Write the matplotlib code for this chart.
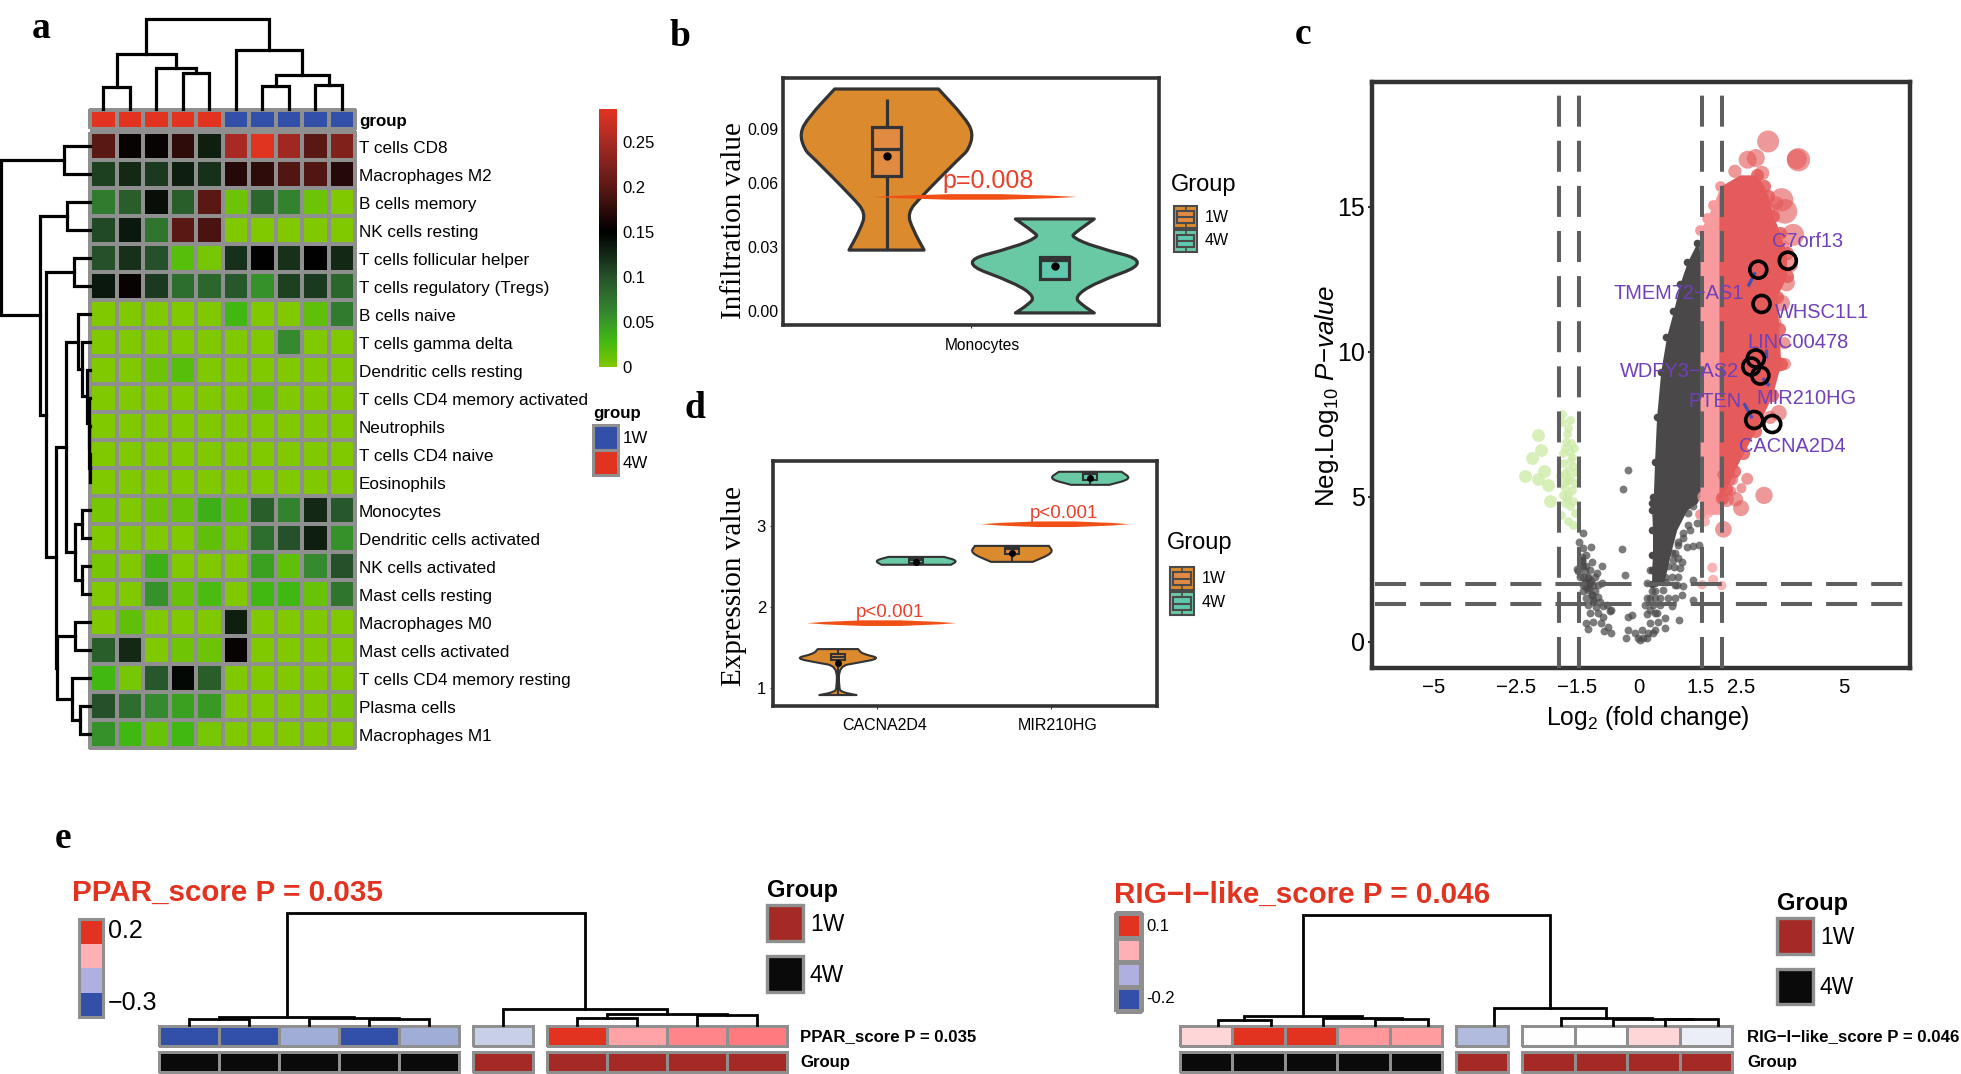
import numpy as np
import matplotlib
matplotlib.use('Agg')
import matplotlib.pyplot as plt
from matplotlib.cm import ScalarMappable
from matplotlib.colors import LinearSegmentedColormap, ListedColormap, Normalize, TwoSlopeNorm
from matplotlib.patches import PathPatch, Rectangle
from matplotlib.path import Path

plt.rcParams['font.family'] = ['Liberation Sans', 'DejaVu Sans']
plt.rcParams['mathtext.fontset'] = 'custom'
plt.rcParams['mathtext.rm'] = 'Liberation Sans'
plt.rcParams['mathtext.it'] = 'Liberation Sans:italic'

W, H = 1961, 1074
GREY = '#8F8F8F'
FRAME = '#333333'
ORANGE, ORANGE_BOX = '#DB8B2D', '#E08A42'
TEAL, TEAL_BOX = '#69C9A5', '#5FC8AE'
SPINDLE = '#F05015'
PTEXT = '#E8402A'
PURPLE = '#7040B8'
RED, BLUE = '#E23320', '#3350A8'
HEAT_MAX = .2867

# panel a
cell_types = ['T cells CD8', 'Macrophages M2', 'B cells memory', 'NK cells resting',
              'T cells follicular helper', 'T cells regulatory (Tregs)', 'B cells naive',
              'T cells gamma delta', 'Dendritic cells resting', 'T cells CD4 memory activated',
              'Neutrophils', 'T cells CD4 naive', 'Eosinophils', 'Monocytes',
              'Dendritic cells activated', 'NK cells activated', 'Mast cells resting',
              'Macrophages M0', 'Mast cells activated', 'T cells CD4 memory resting',
              'Plasma cells', 'Macrophages M1']
fractions = [
    [.2, .155, .155, .175, .13, .25, .285, .245, .2, .225],
    [.11, .125, .115, .13, .12, .17, .175, .195, .195, .17],
    [.07, .09, .14, .09, .2, .01, .085, .065, .01, 0],
    [.105, .135, .075, .2, .19, 0, 0, 0, 0, 0],
    [.1, .12, .1, .02, .005, .12, .15, .12, .15, .125],
    [.135, .155, .115, .08, .085, .095, .055, .11, .115, .085],
    [0, 0, 0, 0, 0, .03, 0, 0, .015, .07],
    [0, 0, 0, 0, 0, 0, 0, .06, 0, 0],
    [0, 0, .01, .02, 0, 0, 0, 0, 0, 0],
    [0, 0, 0, 0, 0, 0, .01, 0, 0, 0],
    [0, 0, 0, 0, 0, 0, 0, 0, 0, 0],
    [0, 0, 0, 0, 0, 0, 0, 0, 0, 0],
    [0, 0, 0, 0, 0, 0, 0, 0, 0, 0],
    [.005, 0, .01, .012, .035, .015, .09, .065, .125, .095],
    [0, 0, 0, 0, .015, .005, .08, .1, .13, .055],
    [.005, 0, .035, 0, 0, 0, .045, .015, .06, .1],
    [0, 0, .055, .012, .025, 0, .03, .03, .012, .075],
    [0, .015, 0, 0, 0, .13, 0, 0, 0, 0],
    [.09, .125, 0, .008, .01, .155, 0, 0, 0, 0],
    [.03, .005, .095, .145, .09, 0, 0, 0, 0, 0],
    [.1, .08, .06, .045, .05, 0, 0, 0, 0, .005],
    [.055, .03, .012, .03, .005, 0, 0, 0, 0, 0],
]
sample_group = [1, 1, 1, 1, 1, 0, 0, 0, 0, 0]
col_tree = (90, (55, (22, 0, 1), (41, 2, (36, 3, 4))),
            (59, 5, (34, (23, 6, 7), (24, 8, 9))))
row_chain = (12, 6, (8, 7, (3.5, 8, (1.5, 9, (1, 10, (.5, 11, 12))))))
row_mid = (24, row_chain, (15, (8, 13, 14), (8, 15, 16)))
row_low = (33, (15, 17, 18), (18, 19, (10, 20, 21)))
row_tree = (89, (26, 0, 1), (50, (23, 2, 3), (44, (16, 4, 5), (34, row_mid, row_low))))

# panel b
mono_1w_val = [.1063, .093, .0855, .0775, .0742, .0553, .0477, .0397, .0302]
mono_1w_half = [.166, .249, .278, .262, .237, .11, .066, .085, .12]
mono_4w_val = [.0449, .0382, .0364, .0317, .0246, .0146, .008, .0042, .0005]
mono_4w_half = [.126, .063, .054, .126, .31, .126, .062, .088, .126]

# panel d
cacna_1w_val = [1.48, 1.42, 1.367, 1.31, 1.27, 1.0, .95, .913]
cacna_1w_half = [.116, .14, .25, .11, .006, .006, .02, .107]
cacna_4w_val = [2.617, 2.57, 2.52]
cacna_4w_half = [.16, .24, .2]
mir_1w_val = [2.753, 2.667, 2.556]
mir_1w_half = [.213, .24, .12]
mir_4w_val = [3.667, 3.58, 3.506]
mir_4w_half = [.18, .24, .11]

# panel c, dense clouds are kept as outlines
grey_y = [13.74, 13.1, 12.35, 11.4, 10.5, 9.3, 7.75, 6.2, 5.0, 4.78, 4.55, 3.86, 3.0, 2.48, 2.0]
grey_left = [1.41, 1.18, 1.0, .84, .67, .53, .43, .38, .35, .31, .31, .33, .33, .31, .31]
grey_right = [1.46, 1.5, 1.5, 1.5, 1.5, 1.5, 1.5, 1.5, 1.5, 1.41, 1.17, .92, .76, .68, .59]
pink_y = [15.7, 15.07, 14.6, 14.2, 4.4]
pink_left = [1.98, 1.81, 1.65, 1.49, 1.49]
pink_right = [2.0, 2.0, 2.0, 2.0, 2.0]
red_y = [16.1, 15.7, 15.36, 14.67, 14.09, 13.4, 12.6, 11.9, 10.8, 9.58, 8.5, 7.28, 6.5, 5.9, 5.28, 4.97]
red_left = [2.46, 1.98, 1.95, 1.95, 1.95, 1.95, 1.95, 1.95, 1.95, 1.95, 1.95, 1.95, 1.95, 1.95, 1.95, 1.95]
red_right = [2.87, 3.05, 3.15, 3.28, 3.44, 3.6, 3.6, 3.36, 3.41, 3.46, 3.25, 2.84, 2.54, 2.33, 2.13, 2.02]

grey_x_pts = [-1.37, -1.46, -1.36, -1.18, -1.40, -1.28, -1.15, -1.40, -1.52, -1.32, -.91, -1.20, -1.44, -1.03,
              -.91, -1.28, -1.11, -1.36, -1.07, -.95, -1.24, -.79, -1.20, -.99, -.67, -.87, -1.11, -1.29,
              -.93, -.75, -1.25, -.85, -.67, -1.38, -1.30, -1.25, -1.18, -1.32, -1.15, -1.05, -1.12, -1.3,
              -1.22, -.32, -.10, .02, .19, .35, .07, .27, .47, .63, .63, .98, -.26, -.26, -.17, .19, .39,
              .15, .27, .51, .80, .88, 1.04, .31, .59, 1.08, .92, .67, .96, 1.33, .27, .86, 1.04, .80, .96,
              1.16, 1.33, 1.47, .84, 1.33, .19, -.42, -.33, -.38, -.26,
              -1.40, -1.36, -1.48, -1.36, -1.24, -1.07, -1.20, -1.36, -.99, -1.24, -1.15, -.99, -1.28, -1.11,
              -.87, -.71, .39, .51, .63, .39, .39, .19, .51, .35, .27, .72, .43, .23, .10, -.02, .39, .88, .80,
              .72, 1.0, .96, .88, 1.08, 1.24, 1.41, 1.20, 1.33, 1.08, .96, 1.20]
grey_y_pts = [3.75, 3.46, 3.23, 3.26, 2.94, 3.00, 2.77, 2.66, 2.51, 2.43, 2.62, 2.48, 2.25, 2.37,
              2.02, 2.02, 1.97, 1.74, 1.74, 1.39, 1.28, 1.28, .99, .99, 1.10, .87, .70, .64,
              .64, .53, .46, .38, .32, 2.8, 2.6, 2.2, 2.1, 2.05, 1.6, 1.2, 1.45, 1.9,
              1.85, .13, .30, .05, .13, .30, .41, .64, .70, .82, .49, .74, .41, .87, .92, .97, .99,
              1.28, 1.51, 1.51, 1.22, 1.51, 1.62, 1.74, 1.79, 1.91, 1.97, 2.08, 2.25, 2.14, 2.48, 2.57, 2.77, 3.06, 3.34,
              3.26, 3.31, 3.34, 2.83, 1.45, 2.02, 3.2, 2.3, 5.26, 5.93,
              2.83, 2.60, 2.43, 2.25, 2.25, 2.25, 2.02, 1.97, 1.97, 1.79, 1.62, 1.56, 1.51, 1.39,
              1.22, 1.05, 2.02, 2.14, 2.25, 1.74, 1.51, 1.51, 1.28, 1.28, 1.10, 1.51, .99, .30, .13, .13, .41, 1.97, 2.25,
              2.60, 2.54, 2.88, 3.06, 3.75, 3.86, 4.09, 4.44, 4.67, 3.57, 3.46, 4.03]

green_big_x = [-2.47, -2.38, -2.61, -2.31, -2.77, -2.45, -2.23, -2.18]
green_big_y = [7.12, 6.61, 6.33, 5.90, 5.71, 5.62, 5.40, 4.85]
green_x = [-1.87, -1.67, -1.87, -1.72, -1.75, -1.78, -1.65, -1.81, -1.59, -1.86, -1.68, -1.64, -1.85, -1.68, -1.60,
           -1.72, -1.54, -1.80, -1.93, -1.68, -1.76, -1.56, -1.91, -1.80, -1.64, -1.86, -1.72, -1.60, -1.80, -1.68,
           -1.56, -1.89, -1.72, -1.60, -1.76, -1.72]
green_y = [7.85, 7.66, 7.59, 7.37, 7.16, 6.89, 6.85, 6.68, 6.70, 6.51, 6.56, 6.39, 6.16, 6.22, 6.05,
           5.93, 5.85, 5.82, 5.72, 5.68, 5.53, 5.47, 5.45, 5.30, 5.24, 5.05, 5.07, 4.84, 4.78, 4.67,
           4.44, 4.36, 4.15, 4.03, 4.95, 5.59]

red_big_x = [3.15, 3.89, 3.85, 2.85, 2.65, 3.0, 2.34, 3.48, 3.56, 3.36, 3.11, 3.76, 3.6, 3.48, 3.36, 3.56, 3.41, 3.2,
             3.05, 2.64, 2.23, 2.26, 2.06, 2.36, 2.49, 2.14, 2.03, 2.25, 2.5, 3.7, 3.5, 3.3, 3.2, 3.55]
red_big_y = [17.25, 16.62, 16.64, 16.68, 16.62, 16.16, 16.22, 15.24, 14.84, 15.13, 14.9, 14.03, 12.37, 11.68, 9.58, 9.58,
             7.89, 7.74, 5.05, 5.62, 5.58, 5.61, 3.88, 4.92, 4.61, 4.9, 5.76, 5.2, 5.3, 13.0, 13.6, 11.0, 10.5, 10.3]
red_big_r = [33, 35, 30, 27, 27, 22, 20, 35, 37, 20, 25, 33, 25, 25, 25, 18, 24, 20, 26, 18, 16, 20, 25, 22, 24, 22, 15, 15, 15,
             22, 22, 22, 20, 18]
pink_pts_x = [1.79, 1.81, 1.54, 2.02, 1.57, 1.69, 1.61, 1.77, 1.93, 1.97]
pink_pts_y = [2.56, 2.14, 1.97, 1.94, 5.0, 4.44, 4.15, 5.36, 4.9, 5.13]
pink_pts_r = [15, 15, 14, 14, 18, 15, 15, 20, 18, 15]

ring_x = [3.63, 2.91, 2.99, 2.85, 2.74, 2.96, 2.81, 3.25]
ring_y = [13.14, 12.83, 11.65, 9.77, 9.49, 9.18, 7.65, 7.51]
gene_names = ['C7orf13', 'TMEM72\u2212AS1', 'WHSC1L1', 'LINC00478', 'WDFY3\u2212AS2', 'MIR210HG', 'PTEN', 'CACNA2D4']
gene_x = [4.10, .98, 4.47, 3.87, .98, 4.08, 1.85, 3.75]
gene_y = [13.81, 12.01, 11.35, 10.32, 9.32, 8.40, 8.27, 6.74]
link_x = [(2.66, 2.84), (3.1, 3.1), (3.02, 3.18), (2.56, 2.76)]
link_y = [(12.25, 12.74), (9.77, 10.08), (9.09, 8.82), (8.23, 7.71)]
volcano_xticks = [-5, -3, -1.5, 0, 1.5, 2.5, 5]
volcano_xlabels = ['\u22125', '\u22122.5', '\u22121.5', '0', '1.5', '2.5', '5']

# panel e
ppar_scores = [-.3, -.3, -.14, -.3, -.14, -.08, .2, .09, .12, .13]
rig_scores = [.02, .1, .1, .05, .048, -.077, 0, 0, .02, -.02]
score_group = [1, 1, 1, 1, 1, 0, 0, 0, 0, 0]
ppar_tree = (112, (8, (6, 0, 1), (7.5, 2, (6, 3, 4))), (16, 5, (11, (7, 6, 7), (10, 8, 9))))
rig_tree = (110, (8.7, (5.5, 0, 1), (7, 2, (6, 3, 4))), (16.7, 5, (6.7, 6, (6.2, 7, (6, 8, 9)))))
key_colors = [BLUE, '#B0B0E0', '#FFB0B5', RED]

fig = plt.figure(figsize=(W / 100, H / 100), dpi=100)


def px_axes(x0, y0, x1, y1):
    return fig.add_axes([x0 / W, 1 - y1 / H, (x1 - x0) / W, (y1 - y0) / H])


def draw_tree(ax, node, leaf_pos, sideways=False, lw=2.3):
    if isinstance(node, int):
        return leaf_pos[node], 0
    h, a, b = node
    pa, ha = draw_tree(ax, a, leaf_pos, sideways, lw)
    pb, hb = draw_tree(ax, b, leaf_pos, sideways, lw)
    pos, hs = [pa, pa, pb, pb], [ha, h, h, hb]
    if sideways:
        ax.plot(hs, pos, color='k', lw=lw, solid_joinstyle='miter', clip_on=False)
    else:
        ax.plot(pos, hs, color='k', lw=lw, solid_joinstyle='miter', clip_on=False)
    return (pa + pb) / 2, h


def side_path(pts):
    mid = lambda p, q: ((p[0] + q[0]) / 2, (p[1] + q[1]) / 2)
    verts, codes = [pts[0], mid(pts[0], pts[1])], [Path.LINETO, Path.LINETO]
    for i in range(1, len(pts) - 1):
        verts += [pts[i], mid(pts[i], pts[i + 1])]
        codes += [Path.CURVE3, Path.CURVE3]
    verts.append(pts[-1])
    codes.append(Path.LINETO)
    return verts, codes


def draw_violin(ax, center, vals, half, color, lw):
    right = [(center + w, v) for v, w in zip(vals, half)]
    left = [(center - w, v) for v, w in zip(vals, half)][::-1]
    v1, c1 = side_path(right)
    v2, c2 = side_path(left)
    verts = v1 + v2 + [right[0]]
    codes = c1 + c2 + [Path.CLOSEPOLY]
    codes[0] = Path.MOVETO
    ax.add_patch(PathPatch(Path(verts, codes), fc=color, ec=FRAME, lw=lw, joinstyle='round'))


def draw_box(ax, center, half, low, q1, med, q3, high, mean, color, lw, dot):
    ax.plot([center, center], [low, high], color=FRAME, lw=lw, solid_capstyle='butt')
    ax.add_patch(Rectangle((center - half, q1), 2 * half, q3 - q1, fc=color, ec=FRAME, lw=lw, zorder=3))
    ax.plot([center - half, center + half], [med, med], color=FRAME, lw=lw, zorder=4, solid_capstyle='butt')
    ax.plot([center], [mean], 'o', color='k', ms=dot, zorder=5)


def draw_lens(ax, x0, x1, y, thick):
    xm = (x0 + x1) / 2
    verts = [(x0, y), (xm, y + thick), (x1, y), (xm, y - thick), (x0, y)]
    codes = [Path.MOVETO, Path.CURVE3, Path.CURVE3, Path.CURVE3, Path.CURVE3]
    ax.add_patch(PathPatch(Path(verts, codes), fc=SPINDLE, ec='none', zorder=6, clip_on=False))


def frame(ax, lw):
    for s in ax.spines.values():
        s.set_linewidth(lw)
        s.set_color(FRAME)


def marker_area(r):
    # r is a radius read in a 3x crop
    return .23 * np.array(r) ** 2


# overlay in picture pixels, only for labels and legends
ov = fig.add_axes([0, 0, 1, 1], zorder=20)
ov.set_xlim(0, W)
ov.set_ylim(H, 0)
ov.axis('off')
ov.patch.set_alpha(0)


def label(x, y, s, size, ha='left', **kw):
    ov.text(x, y + 2.5, s, fontsize=size, ha=ha, va='center', **kw)


def violin_key(x0, y0, x1, y1, color, box):
    xm = (x0 + x1) / 2
    ov.add_patch(Rectangle((x0, y0), x1 - x0, y1 - y0, fc=color, ec='#4A4A4A', lw=1.5))
    ov.plot([xm, xm], [y0, y1], color='#4A4A4A', lw=1.2)
    ov.add_patch(Rectangle((x0 + 3, y0 + 5), x1 - x0 - 6, y1 - y0 - 10, fc=box, ec='#4A4A4A', lw=1.5, zorder=3))
    ov.plot([x0 + 3, x1 - 3], [(y0 + y1) / 2] * 2, color='#4A4A4A', lw=1.5, zorder=4)


for s, x, y in [('a', 32, 29), ('b', 670, 37), ('c', 1295, 35), ('d', 684, 408), ('e', 55, 839)]:
    ov.text(x, y, s, fontsize=27, family='Liberation Serif', weight='bold', ha='left', va='center')

# a: heat map
heat_cmap = LinearSegmentedColormap.from_list('heat', [
    (0, '#80C800'), (.03 / HEAT_MAX, '#3FB812'), (.06 / HEAT_MAX, '#35892F'), (.1 / HEAT_MAX, '#25502A'),
    (.15 / HEAT_MAX, '#000000'), (.2 / HEAT_MAX, '#5A1814'), (.25 / HEAT_MAX, '#A82A24'), (1, RED)])
ax = px_axes(90, 132, 355, 748)
ax.pcolormesh(np.array(fractions), cmap=heat_cmap, vmin=0, vmax=HEAT_MAX, edgecolors=GREY, linewidth=1.7, clip_on=False)
ax.set_ylim(22, 0)
ax.axis('off')
for i, name in enumerate(cell_types):
    label(359, 132 + 28 * (i + .5), name, 12.3)

ax = px_axes(90, 110, 355, 129)
ax.pcolormesh(np.array([sample_group]), cmap=ListedColormap([BLUE, RED]), vmin=0, vmax=1,
              edgecolors=GREY, linewidth=1.7, clip_on=False)
ax.axis('off')
label(359, 119, 'group', 12.2, weight='bold')

ax = px_axes(90, 19, 355, 109)
ax.set_xlim(0, 10)
ax.set_ylim(0, 90)
draw_tree(ax, col_tree, [i + .5 for i in range(10)])
ax.axis('off')

ax = px_axes(0, 132, 90, 748)
ax.set_xlim(90, 0)
ax.set_ylim(22, 0)
draw_tree(ax, row_tree, [i + .5 for i in range(22)], sideways=True)
ax.axis('off')

cax = px_axes(599, 109, 617, 367)
cbar = fig.colorbar(ScalarMappable(Normalize(0, HEAT_MAX), heat_cmap), cax=cax, ticks=[0, .05, .1, .15, .2, .25])
cbar.ax.set_yticklabels(['0', '0.05', '0.1', '0.15', '0.2', '0.25'], fontsize=12)
cbar.ax.tick_params(length=0, pad=4)
cbar.outline.set_visible(False)

label(593, 411, 'group', 12.2, weight='bold')
ov.add_patch(Rectangle((593, 425), 25, 25, fc=BLUE, ec=GREY, lw=2.2))
ov.add_patch(Rectangle((593, 450), 25, 25, fc=RED, ec=GREY, lw=2.2))
label(623, 436, '1W', 12.2)
label(623, 461, '4W', 12.2)

# b: Monocytes violins
ax = px_axes(783, 78, 1159, 325)
ax.set_xlim(.399, 1.601)
ax.set_ylim(-.0052, .1115)
draw_violin(ax, .73, mono_1w_val, mono_1w_half, ORANGE, 2.3)
draw_violin(ax, 1.268, mono_4w_val, mono_4w_half, TEAL, 2.3)
draw_box(ax, .73, .046, .0302, .0652, .078, .0883, .1016, .0746, ORANGE_BOX, 2.3, 5)
draw_box(ax, 1.268, .046, .0165, .0165, .0255, .0269, .0269, .0227, TEAL_BOX, 2.3, 5)
draw_lens(ax, .687, 1.339, .0553, .0028)
ax.text(1.054, .063, 'p=0.008', color=PTEXT, fontsize=18, ha='center', va='center', zorder=7)
ax.set_xticks([1])
ax.set_xticklabels([''])
ax.set_yticks([.0015, .0315, .0619, .0875])
ax.set_yticklabels(['0.00', '0.03', '0.06', '0.09'], fontsize=11.5)
ax.tick_params(axis='y', length=0, pad=3)
ax.tick_params(axis='x', length=2, color=FRAME)
frame(ax, 2.6)
label(982, 343, 'Monocytes', 11.2, ha='center')
ov.text(734, 221, 'Infiltration value', fontsize=21, family='Liberation Serif', rotation=90, ha='center', va='center')
label(1171, 182, 'Group', 17)
violin_key(1174, 206, 1197, 228, ORANGE, ORANGE_BOX)
violin_key(1174, 230, 1197, 252, TEAL, TEAL_BOX)
label(1205, 215, '1W', 11.5)
label(1205, 238, '4W', 11.5)

# d: expression violins
ax = px_axes(773, 461, 1157, 706)
ax.set_xlim(.402, 2.609)
ax.set_ylim(.778, 3.80)
lw_d = 1.5
draw_violin(ax, .775, cacna_1w_val, cacna_1w_half, ORANGE, lw_d)
draw_violin(ax, 1.225, cacna_4w_val, cacna_4w_half, TEAL, lw_d)
draw_violin(ax, 1.775, mir_1w_val, mir_1w_half, ORANGE, lw_d)
draw_violin(ax, 2.225, mir_4w_val, mir_4w_half, TEAL, lw_d)
draw_box(ax, .775, .04, .913, 1.345, 1.38, 1.415, 1.48, 1.31, ORANGE_BOX, lw_d, 4)
draw_box(ax, 1.225, .04, 2.54, 2.54, 2.58, 2.6, 2.6, 2.56, TEAL_BOX, lw_d, 4)
draw_box(ax, 1.775, .04, 2.556, 2.65, 2.72, 2.74, 2.753, 2.67, ORANGE_BOX, lw_d, 4)
draw_box(ax, 2.225, .04, 3.506, 3.57, 3.64, 3.66, 3.667, 3.59, TEAL_BOX, lw_d, 4)
draw_lens(ax, .598, 1.454, 1.80, .074)
draw_lens(ax, 1.598, 2.454, 3.02, .074)
ax.text(1.075, 1.93, 'p<0.001', color=PTEXT, fontsize=13.5, ha='center', va='center', zorder=7)
ax.text(2.075, 3.155, 'p<0.001', color=PTEXT, fontsize=13.5, ha='center', va='center', zorder=7)
ax.set_xticks([1, 2])
ax.set_xticklabels(['', ''])
ax.set_yticks([1, 2, 3])
ax.set_yticklabels(['1', '2', '3'], fontsize=12)
ax.tick_params(axis='y', length=2, pad=3, color=FRAME)
ax.tick_params(axis='x', length=2, color=FRAME)
frame(ax, 2.6)
label(885, 723, 'CACNA2D4', 11.5, ha='center')
label(1058, 723, 'MIR210HG', 11.5, ha='center')
ov.text(734, 586, 'Expression value', fontsize=21, family='Liberation Serif', rotation=90, ha='center', va='center')
label(1167, 541, 'Group', 17)
violin_key(1170, 567, 1194, 590, ORANGE, ORANGE_BOX)
violin_key(1170, 592, 1194, 615, TEAL, TEAL_BOX)
label(1202, 576, '1W', 11.5)
label(1202, 600, '4W', 11.5)

# c: volcano
ax = px_axes(1372, 82, 1910, 668)
ax.set_xlim(-6.51, 6.61)
ax.set_ylim(-.9, 19.3)
DARK, LPINK, LRED = '#4A4849', '#F99B9E', '#E55A5A'
ax.fill_betweenx(grey_y, grey_left, grey_right, color=DARK, lw=0, zorder=2)
ax.scatter(grey_left, grey_y, s=30, color=DARK, lw=0, zorder=2)
ax.scatter(grey_x_pts, grey_y_pts, s=32, color=DARK, alpha=.72, lw=0, zorder=2)
ax.fill_betweenx(pink_y, pink_left, pink_right, color=LPINK, lw=0, zorder=3)
ax.scatter(pink_left, pink_y, s=60, color=LPINK, lw=0, zorder=3)
ax.scatter(pink_pts_x, pink_pts_y, s=marker_area(pink_pts_r), color=LPINK, alpha=.75, lw=0, zorder=3)
ax.fill_betweenx(red_y, red_left, red_right, color=LRED, lw=0, zorder=4)
ax.scatter(red_right, red_y, s=90, color=LRED, alpha=.85, lw=0, zorder=4)
ax.scatter(red_big_x, red_big_y, s=marker_area(red_big_r), color=LRED, alpha=.62, lw=0, zorder=4)
ax.scatter(green_big_x, green_big_y, s=85, color='#CDEBA8', alpha=.8, lw=0, zorder=3)
ax.scatter(green_x, green_y, s=40, color='#CDEBA8', alpha=.8, lw=0, zorder=3)
for v in [-1.95, -1.46, 1.53, 2.03]:
    ax.axvline(v, color='#5F5F5F', lw=2.9, dashes=(7.7, 3.5), zorder=5)
for v in [1.98, 1.29]:
    ax.axhline(v, xmin=.005, xmax=.987, color='#5F5F5F', lw=2.9, dashes=(7.7, 3.5), zorder=5)
ax.scatter(ring_x, ring_y, s=150, facecolors='none', edgecolors='k', lw=2.6, zorder=7)
for xs, ys in zip(link_x, link_y):
    ax.plot(xs, ys, color='#4A50B0', lw=2.4, zorder=6, solid_capstyle='butt')
for name, x, y in zip(gene_names, gene_x, gene_y):
    ax.text(x, y, name, color=PURPLE, fontsize=14.4, ha='center', va='center', zorder=8)
ax.set_xticks(volcano_xticks)
ax.set_xticklabels(volcano_xlabels, fontsize=14.7)
ax.set_yticks([0, 5, 10, 15])
ax.set_yticklabels(['0', '5', '10', '15'], fontsize=18)
ax.tick_params(axis='x', length=0, pad=7)
ax.tick_params(axis='y', length=3, width=1.5, pad=2, color=FRAME)
frame(ax, 3.2)
ov.text(1648, 718, r'Log$_2$ (fold change)', fontsize=17.8, ha='center', va='center')
ov.text(1327, 396, 'Neg.Log$_{10}$ $P$\u2212$value$', fontsize=18.7, rotation=90, ha='center', va='center')


# e: score strips
def score_panel(x0, cell, leaf_shift, scores, tree, vmin, vmax, title, tx, ty, row_y, name_x, group_x,
                key_box, key_gaps, tick_text, tick_size, legend_y):
    sizes = [5, 1, 4]
    gap = 14 / cell
    starts = [0, 5 + gap, 6 + 2 * gap]
    total = 10 + 2 * gap
    x1 = x0 + total * cell
    score_cmap = LinearSegmentedColormap.from_list('score', [(0, BLUE), (.5, '#FFFFFF'), (.825, '#FF7B80'), (1, RED)])
    norm = TwoSlopeNorm(vmin=vmin, vcenter=0, vmax=vmax)
    group_cmap = ListedColormap(['#A52A25', '#0A0A0A'])
    rows = [(row_y[0], row_y[1], scores, score_cmap, norm), (row_y[2], row_y[3], score_group, group_cmap, Normalize(0, 1))]
    for y0, y1, values, cmap, nrm in rows:
        ax = px_axes(x0, y0, x1, y1)
        ax.set_xlim(0, total)
        ax.set_ylim(0, 1)
        done = 0
        for start, n in zip(starts, sizes):
            edges = start + np.arange(n + 1)
            ax.pcolormesh(edges, [0, 1], np.array([values[done:done + n]]), cmap=cmap, norm=nrm,
                          edgecolors=GREY, linewidth=1.9, clip_on=False)
            done += n
        ax.axis('off')
    leaves = []
    for start, n in zip(starts, sizes):
        leaves += [start + k + .5 for k in range(n)]
    ax = px_axes(x0 + leaf_shift, row_y[0] - 114, x1 + leaf_shift, row_y[0] - 1)
    ax.set_xlim(0, total)
    ax.set_ylim(0, 113)
    draw_tree(ax, tree, leaves, lw=2.0)
    ax.axis('off')
    # colour key
    ax = px_axes(*key_box)
    if key_gaps:
        ax.pcolormesh(np.array([[0], [1], [2], [3]]), cmap=ListedColormap(key_colors), vmin=0, vmax=3,
                      edgecolors=GREY, linewidth=2.2, clip_on=False)
    else:
        ax.pcolormesh(np.array([[0], [1], [2], [3]]), cmap=ListedColormap(key_colors), vmin=0, vmax=3)
        ov.add_patch(Rectangle((key_box[0], key_box[1]), key_box[2] - key_box[0], key_box[3] - key_box[1],
                               fc='none', ec=GREY, lw=2.2))
    ax.axis('off')
    for (y, s) in tick_text:
        label(key_box[2] + 5, y, s, tick_size)
    ov.text(tx, ty + 2.5, title, color=RED, fontsize=21.3, weight='bold', va='center')
    label(name_x, row_y[0] + 8, title, 12.1, weight='bold')
    label(name_x, row_y[2] + 8, 'Group', 12.1, weight='bold')
    label(group_x, legend_y[0], 'Group', 17, weight='bold')
    for y0, y1, c, s in [(legend_y[1], legend_y[2], '#A52A25', '1W'), (legend_y[3], legend_y[4], '#0A0A0A', '4W')]:
        ov.add_patch(Rectangle((group_x, y0), 36, y1 - y0, fc=c, ec=GREY, lw=2.4))
        label(group_x + 43, (y0 + y1) / 2 - 1, s, 16.5)


score_panel(159, 60, 0, ppar_scores, ppar_tree, -.3, .2, 'PPAR_score P = 0.035',
            72, 890, (1026, 1046, 1052, 1072), 800, 767, (79, 919, 103, 1017), False,
            [(928, '0.2'), (1001, '\u22120.3')], 18, (888, 905, 941, 956, 992))
score_panel(1180, 52.4, 12, rig_scores, rig_tree, -.2, .1, 'RIG\u2212I\u2212like_score P = 0.046',
            1114, 892, (1026, 1046, 1052, 1072), 1747, 1777, (1116, 913, 1141, 1011), True,
            [(924, '0.1'), (996, '-0.2')], 12, (901, 918, 954, 969, 1004))

plt.savefig('out.png', dpi=100)
